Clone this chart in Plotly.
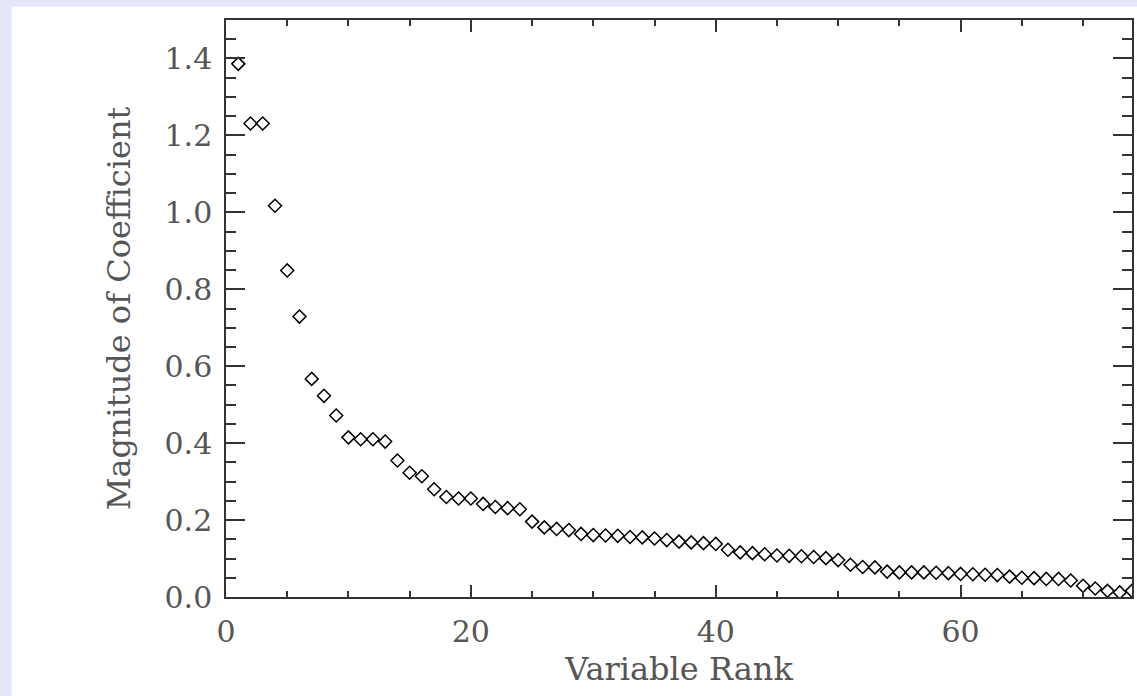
import plotly.graph_objects as go

rank = list(range(1, 75))
magnitude = [
    1.386, 1.231, 1.231, 1.017, 0.849, 0.729, 0.567, 0.523, 0.472, 0.415,
    0.410, 0.410, 0.404, 0.355, 0.323, 0.314, 0.280, 0.260, 0.256, 0.256,
    0.242, 0.234, 0.231, 0.228, 0.196, 0.181, 0.177, 0.174, 0.164, 0.161,
    0.160, 0.159, 0.156, 0.155, 0.152, 0.148, 0.144, 0.142, 0.140, 0.138,
    0.123, 0.116, 0.114, 0.111, 0.108, 0.107, 0.106, 0.104, 0.101, 0.096,
    0.084, 0.078, 0.077, 0.066, 0.064, 0.064, 0.064, 0.063, 0.062, 0.060,
    0.059, 0.058, 0.057, 0.053, 0.050, 0.049, 0.047, 0.047, 0.043, 0.029,
    0.022, 0.016, 0.012, 0.016,
]
x_title = "Variable Rank"
y_title = "Magnitude of Coefficient"

FONT = "DejaVu Serif"
TXT = "#555555"
AX = "#333333"

fig = go.Figure()
fig.add_trace(go.Scatter(
    x=rank, y=magnitude, mode="markers",
    marker=dict(symbol="diamond-open", size=10, color="black",
                line=dict(width=1.5, color="black")),
    showlegend=False, hoverinfo="x+y",
))

W, H = 1137, 696
L, R, T, B = 225.5, 1132.3, 20.3, 596.7
pw, ph = R - L, B - T

fig.update_layout(
    width=W, height=H,
    margin=dict(l=L, r=W - R, t=T, b=H - B, pad=0),
    paper_bgcolor="#e6e6fa",
    plot_bgcolor="white",
    font=dict(family=FONT, color=TXT),
    shapes=[dict(type="rect", xref="paper", yref="paper", layer="below",
                 x0=(11 - L) / pw, x1=1.2, y0=-0.5, y1=(B - 7) / ph,
                 fillcolor="white", line=dict(width=0))],
)

fig.update_xaxes(
    range=[0, 74], dtick=20, tick0=0, showgrid=False, zeroline=False,
    showline=True, linecolor=AX, linewidth=1.5, mirror="allticks",
    ticks="inside", ticklen=12, tickwidth=1.5, tickcolor=AX,
    minor=dict(dtick=5, ticks="inside", ticklen=6, tickwidth=1.5, tickcolor=AX, showgrid=False),
    tickfont=dict(family=FONT, size=30, color=TXT), ticklabelstandoff=7,
    title=dict(text=x_title, font=dict(family=FONT, size=32, color=TXT), standoff=10),
)
fig.update_yaxes(
    range=[0, 1.5], dtick=0.2, tick0=0, tickformat=".1f", showgrid=False, zeroline=False,
    showline=True, linecolor=AX, linewidth=1.5, mirror="allticks",
    ticks="inside", ticklen=19, tickwidth=1.5, tickcolor=AX,
    minor=dict(dtick=0.05, ticks="inside", ticklen=10, tickwidth=1.5, tickcolor=AX, showgrid=False),
    tickfont=dict(family=FONT, size=30, color=TXT), ticklabelstandoff=6,
    title=dict(text=y_title, font=dict(family=FONT, size=32, color=TXT), standoff=24),
)

fig.write_html("out.html")
